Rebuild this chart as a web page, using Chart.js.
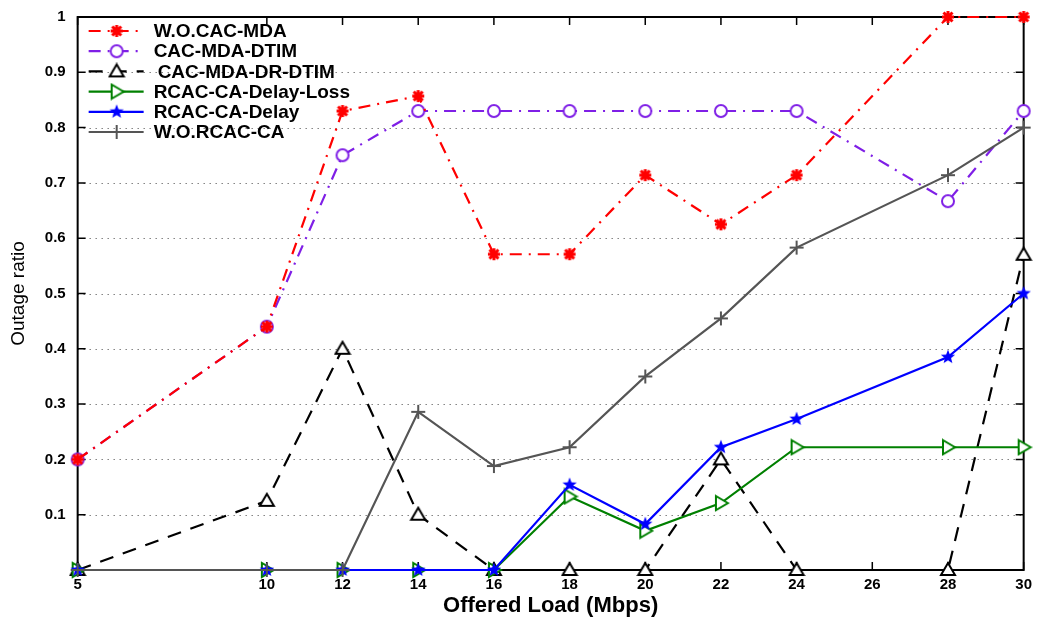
<!DOCTYPE html>
<html>
<head>
<meta charset="utf-8">
<script src="https://cdn.jsdelivr.net/npm/chart.js@4.4.1/dist/chart.umd.min.js"></script>
<style>
  html, body { margin: 0; padding: 0; background: #fff; }
  #wrap { width: 1039px; height: 620px; }
</style>
</head>
<body>
<div id="wrap"><canvas id="chart" width="1039" height="620"></canvas></div>
<script>
// offered load (Mbps)
const loads = [5, 10, 12, 14, 16, 18, 20, 22, 24, 28, 30];
const xTicks = [5, 10, 12, 14, 16, 18, 20, 22, 24, 26, 28, 30];

// outage ratio for each scheme
const woCacMda     = [0.2, 0.44, 0.83, 0.857, 0.571, 0.571, 0.714, 0.625, 0.714, 1.0, 1.0];
const cacMdaDtim   = [0.2, 0.44, 0.75, 0.83, 0.83, 0.83, 0.83, 0.83, 0.83, 0.667, 0.83];
const cacMdaDrDtim = [0, 0.125, 0.4, 0.1, 0, 0, 0, 0.2, 0, 0, 0.57];
const rcacDelayLoss = [0, 0, 0, 0, 0, 0.133, 0.071, 0.121, 0.222, 0.222, 0.222];
const rcacDelay    = [0, 0, 0, 0, 0, 0.154, 0.083, 0.222, 0.273, 0.385, 0.5];
const woRcacCa     = [0, 0, 0, 0.286, 0.188, 0.222, 0.35, 0.455, 0.583, 0.714, 0.8];

const labels = ['W.O.CAC-MDA', 'CAC-MDA-DTIM', 'CAC-MDA-DR-DTIM', 'RCAC-CA-Delay-Loss', 'RCAC-CA-Delay', 'W.O.RCAC-CA'];

const FONT = '"Liberation Sans", Arial, sans-serif';

// marker images (matlab style symbols)
function marker(kind, color) {
    const c = document.createElement('canvas');
    c.width = 18; c.height = 18;
    const g = c.getContext('2d');
    g.strokeStyle = color;
    g.fillStyle = color;
    g.lineWidth = 2;
    const m = 9;
    g.beginPath();
    if (kind === 'asterisk') {
        g.lineWidth = 3;
        g.moveTo(m - 6, m); g.lineTo(m + 6, m);
        g.moveTo(m, m - 6); g.lineTo(m, m + 6);
        g.moveTo(m - 4.5, m - 4.5); g.lineTo(m + 4.5, m + 4.5);
        g.moveTo(m - 4.5, m + 4.5); g.lineTo(m + 4.5, m - 4.5);
        g.stroke();
    } else if (kind === 'circle') {
        g.fillStyle = '#fff';
        g.arc(m, m, 6, 0, Math.PI * 2);
        g.fill();
        g.stroke();
    } else if (kind === 'triUp') {
        g.moveTo(m, m - 7); g.lineTo(m + 7, m + 5); g.lineTo(m - 7, m + 5); g.closePath();
        g.fillStyle = '#fff';
        g.fill();
        g.stroke();
    } else if (kind === 'triRight') {
        g.moveTo(m + 7, m); g.lineTo(m - 5, m - 7); g.lineTo(m - 5, m + 7); g.closePath();
        g.fillStyle = '#fff';
        g.fill();
        g.stroke();
    } else if (kind === 'pentagram') {
        for (let i = 0; i < 10; i++) {
            const r = i % 2 === 0 ? 7.5 : 3.2;
            const a = -Math.PI / 2 + i * Math.PI / 5;
            const px = m + r * Math.cos(a), py = m + r * Math.sin(a);
            if (i === 0) g.moveTo(px, py); else g.lineTo(px, py);
        }
        g.closePath();
        g.fill();
    } else if (kind === 'plus') {
        g.moveTo(m - 7, m); g.lineTo(m + 7, m);
        g.moveTo(m, m - 7); g.lineTo(m, m + 7);
        g.stroke();
    }
    return c;
}

function series(label, values, color, dash, kind, order) {
    return {
        label: label,
        data: loads.map((x, i) => ({ x: x, y: values[i] })),
        borderColor: color,
        backgroundColor: color,
        borderWidth: 2.2,
        borderDash: dash,
        pointStyle: marker(kind, color),
        pointRadius: 1,
        pointHoverRadius: 1,
        pointBorderWidth: 0,
        tension: 0,
        clip: false,
        order: order
    };
}

const datasets = [
    series(labels[0], woCacMda, '#ff0000', [12, 7, 2, 7], 'asterisk', 4),
    series(labels[1], cacMdaDtim, '#7f1fe6', [12, 7, 2, 7], 'circle', 5),
    series(labels[2], cacMdaDrDtim, '#000000', [14, 10], 'triUp', 3),
    series(labels[3], rcacDelayLoss, '#008000', [], 'triRight', 2),
    series(labels[4], rcacDelay, '#0000ff', [], 'pentagram', 1),
    series(labels[5], woRcacCa, '#555555', [], 'plus', 0)
];

// dotted grid, box, inward ticks and legend, matlab style
const matlabFrame = {
    id: 'matlabFrame',
    beforeDatasetsDraw(chart) {
        const { ctx, chartArea: a, scales } = chart;
        ctx.save();
        // dotted horizontal grid
        ctx.strokeStyle = '#444';
        ctx.lineWidth = 1;
        ctx.setLineDash([1, 5]);
        ctx.beginPath();
        scales.y.ticks.forEach(t => {
            const py = Math.round(scales.y.getPixelForValue(t.value)) + 0.5;
            ctx.moveTo(a.left, py); ctx.lineTo(a.right, py);
        });
        ctx.stroke();
        ctx.setLineDash([]);
        ctx.strokeStyle = '#000';
        ctx.lineWidth = 1.5;
        ctx.beginPath();
        scales.x.ticks.forEach(t => {
            const px = scales.x.getPixelForValue(t.value);
            ctx.moveTo(px, a.bottom); ctx.lineTo(px, a.bottom - 8);
            ctx.moveTo(px, a.top); ctx.lineTo(px, a.top + 8);
        });
        scales.y.ticks.forEach(t => {
            const py = scales.y.getPixelForValue(t.value);
            ctx.moveTo(a.left, py); ctx.lineTo(a.left + 8, py);
            ctx.moveTo(a.right, py); ctx.lineTo(a.right - 8, py);
        });
        ctx.stroke();
        ctx.lineWidth = 2;
        ctx.strokeRect(a.left, a.top, a.right - a.left, a.bottom - a.top);
        ctx.restore();
    },
    afterDraw(chart) {
        const ctx = chart.ctx;
        const a = chart.chartArea;
        ctx.save();
        ctx.font = 'bold 19px ' + FONT;
        ctx.textBaseline = 'middle';
        chart.data.datasets.forEach((ds, i) => {
            const y = a.top + 14 + i * 20.2;
            const x0 = a.left + 11;
            ctx.strokeStyle = ds.borderColor;
            ctx.lineWidth = 2.2;
            ctx.setLineDash(ds.borderDash);
            ctx.beginPath();
            ctx.moveTo(x0, y); ctx.lineTo(x0 + 55, y);
            ctx.stroke();
            ctx.setLineDash([]);
            ctx.drawImage(ds.pointStyle, x0 + 28 - 9, y - 9);
            ctx.fillStyle = '#000';
            ctx.fillText(ds.label, x0 + 65 + (i === 2 ? 4 : 0), y + 1);
        });
        ctx.restore();
    }
};

new Chart(document.getElementById('chart'), {
    type: 'line',
    data: { datasets: datasets },
    plugins: [matlabFrame],
    options: {
        responsive: false,
        animation: false,
        layout: { padding: { top: 17, right: 12, left: 7, bottom: 3 } },
        plugins: {
            legend: { display: false },
            tooltip: { enabled: false }
        },
        scales: {
            x: {
                type: 'linear',
                min: 5,
                max: 30,
                afterBuildTicks: scale => { scale.ticks = xTicks.map(v => ({ value: v })); },
                afterFit: scale => { scale.height = 47; },
                grid: { display: false, drawTicks: false },
                border: { display: false },
                ticks: {
                    color: '#000',
                    padding: 7,
                    maxRotation: 0,
                    autoSkip: false,
                    font: { family: FONT, size: 15, weight: 'bold', lineHeight: 1.0 },
                    callback: v => String(v)
                },
                title: {
                    display: true,
                    text: 'Offered Load (Mbps)',
                    color: '#000',
                    padding: { top: 4, bottom: 0 },
                    font: { family: FONT, size: 22, weight: 'bold', lineHeight: 1.0 }
                }
            },
            y: {
                min: 0,
                max: 1,
                afterFit: scale => { scale.paddingTop = 0; scale.paddingBottom = 0; },
                grid: { display: false, drawTicks: false },
                border: { display: false },
                ticks: {
                    stepSize: 0.1,
                    color: '#000',
                    padding: 12,
                    font: { family: FONT, size: 15, weight: 'bold' },
                    callback: v => (v === 0 ? '' : (v === 1 ? '1' : v.toFixed(1)))
                },
                title: {
                    display: true,
                    text: 'Outage ratio',
                    color: '#000',
                    padding: { top: 0, bottom: 3 },
                    font: { family: FONT, size: 19, weight: 'normal' }
                }
            }
        }
    }
});
</script>
</body>
</html>
